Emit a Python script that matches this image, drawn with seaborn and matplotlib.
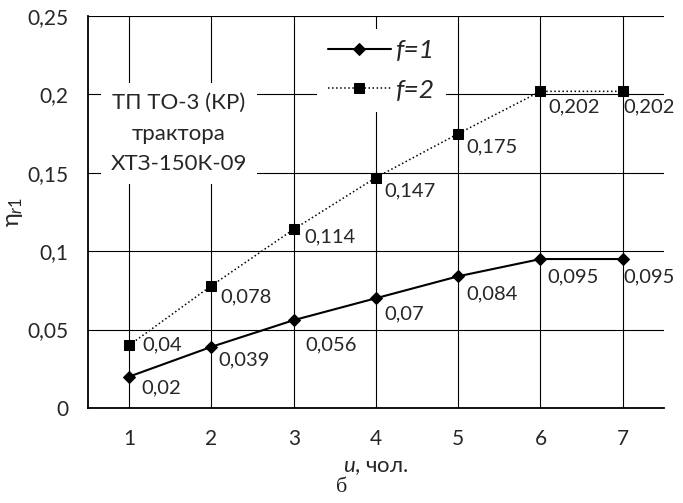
import matplotlib
matplotlib.use('Agg')
import matplotlib.pyplot as plt
import seaborn as sns
import pandas as pd

# data
members = [1, 2, 3, 4, 5, 6, 7]
eta_f1 = [0.02, 0.039, 0.056, 0.07, 0.084, 0.095, 0.095]
eta_f2 = [0.04, 0.078, 0.114, 0.147, 0.175, 0.202, 0.202]
y_ticks = [0, 0.05, 0.1, 0.15, 0.2, 0.25]

# label offsets (px right, px down) as placed in the reference
off_f1 = [(12, 11), (7, 13), (12, 25), (8, 16), (8, 18), (7, 18), (1, 18)]
off_f2 = [(13, 0), (9, 11), (11, 8), (8, 13), (8, 13), (8, 16), (1, 16)]


def comma(v):
    s = f"{v:.3f}".rstrip('0').rstrip('.')
    return s.replace('.', ',') if s else '0'


sns.set_style('white')
plt.rcParams['font.family'] = ['Lato', 'DejaVu Sans']
plt.rcParams['mathtext.fontset'] = 'custom'
plt.rcParams['mathtext.rm'] = 'Lato'
plt.rcParams['mathtext.it'] = 'Lato:italic'

df = pd.DataFrame({'u': members * 2,
                   'eta': eta_f1 + eta_f2,
                   'f': ['f=1'] * 7 + ['f=2'] * 7})

fig = plt.figure(figsize=(6.83, 5.03), dpi=100)
ax = fig.add_axes([0.129, 0.189, 0.843, 0.779])

sns.lineplot(data=df[df.f == 'f=1'], x='u', y='eta', ax=ax, color='black',
             lw=1.5, marker='D', markersize=6.5, markeredgecolor='black',
             label='f=1', zorder=4)
sns.lineplot(data=df[df.f == 'f=2'], x='u', y='eta', ax=ax, color='black',
             lw=1.1, ls=':', marker='s', markersize=7.5, markeredgecolor='black',
             label='f=2', zorder=4)

for vals, offs in [(eta_f1, off_f1), (eta_f2, off_f2)]:
    for x, y, (dx, dy) in zip(members, vals, offs):
        ax.annotate(comma(y), (x, y), xytext=(dx * 0.72, -dy * 0.72),
                    textcoords='offset points', fontsize=14.5,
                    ha='left', va='center', zorder=5)

ax.set_xlim(0.5, 7.5)
ax.set_ylim(0, 0.25)
ax.set_xticks(members)
ax.set_xticks([0.5, 7.5], minor=True)
ax.set_yticks(y_ticks)
ax.set_yticklabels([comma(v) for v in y_ticks])
ax.tick_params(axis='both', which='both', direction='out', length=5, width=1,
               color='black', labelsize=15)
ax.tick_params(axis='x', which='both', pad=10)
ax.tick_params(axis='y', pad=9)

ax.grid(True, color='black', lw=0.8)
ax.set_axisbelow(True)
for side in ['top', 'right']:
    ax.spines[side].set_visible(False)
for side in ['left', 'bottom']:
    ax.spines[side].set_color('black')
    ax.spines[side].set_linewidth(1.3)

ax.set_xlabel('$\\it{u}$, чол.', fontsize=16, labelpad=6)
ax.set_ylabel('η$_{r1}$', fontsize=17, labelpad=2)

ax.text(1.6, 0.175, 'ТП ТО-3 (КР)\nтрактора\nХТЗ-150К-09', fontsize=16,
        ha='center', va='center', linespacing=1.65, zorder=3,
        bbox=dict(facecolor='white', edgecolor='none', pad=7))

leg = ax.legend(loc='upper left', bbox_to_anchor=(0.398, 0.968), frameon=True,
                facecolor='white', edgecolor='none', framealpha=1,
                handlelength=2.4, handletextpad=0.2, fontsize=19,
                labelspacing=0.62, borderaxespad=0, fancybox=False)
for t in leg.get_texts():
    t.set_fontstyle('italic')

fig.text(0.5, 0.022, 'б', fontsize=16, family='Liberation Serif', ha='center')

fig.savefig('out.png', dpi=100)
